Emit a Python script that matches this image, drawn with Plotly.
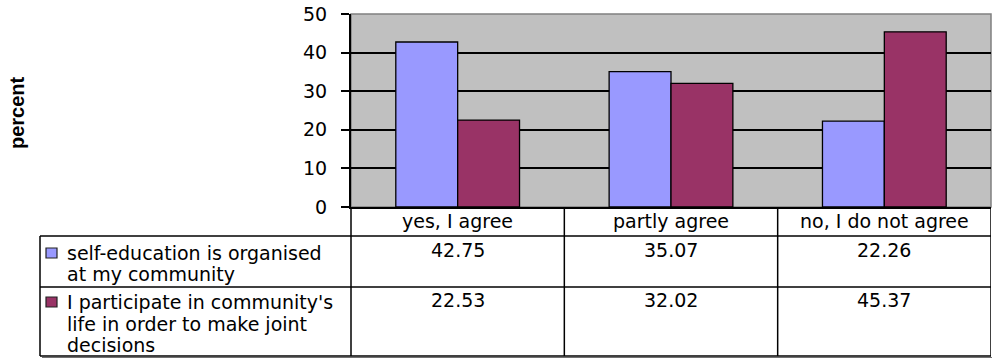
import plotly.graph_objects as go

categories = ["yes, I agree", "partly agree", "no, I do not agree"]
series_names = ["self-education is organised<br>at my community",
                "I participate in community's<br>life in order to make joint<br>decisions"]
series_values = [[42.75, 35.07, 22.26],
                 [22.53, 32.02, 45.37]]
series_colors = ["#9999FF", "#993366"]
y_ticks = [0, 10, 20, 30, 40, 50]
y_title = "percent"

W, H = 1000, 363
ML, MR, MT, MB = 40, 9, 14, 7
PW, PH = W - ML - MR, H - MT - MB


def fx(px):
    return (px - ML) / PW


def fy(py):
    return (H - MB - py) / PH


FONT = "DejaVu Sans"
fig = go.Figure()
for name, vals, col in zip(series_names, series_values, series_colors):
    fig.add_trace(go.Bar(x=categories, y=vals, name=name.replace("<br>", " "),
                         marker=dict(color=col, line=dict(color="black", width=1.3))))

y_axis_bottom = 207
header_bottom = 236
row1_bottom = 287
table_bottom = 356
table_left = 40
col0_right = 351
right_edge = 991

shapes = []
shapes.append(dict(type="rect", xref="x domain", yref="y domain", x0=0, x1=1, y0=0, y1=1,
                   line=dict(color="#808080", width=1.5), layer="below"))
lw = 1.5
for py in (header_bottom, row1_bottom, table_bottom):
    shapes.append(dict(type="line", xref="paper", yref="paper", x0=fx(table_left), x1=fx(right_edge),
                       y0=fy(py), y1=fy(py), line=dict(color="black", width=lw)))
shapes.append(dict(type="line", xref="paper", yref="paper", x0=fx(table_left), x1=fx(table_left),
                   y0=fy(header_bottom), y1=fy(table_bottom), line=dict(color="black", width=lw)))
shapes.append(dict(type="line", xref="paper", yref="paper", x0=fx(col0_right), x1=fx(col0_right),
                   y0=fy(y_axis_bottom), y1=fy(table_bottom), line=dict(color="black", width=lw)))
for i in range(len(categories)):
    xb = i + 0.5
    shapes.append(dict(type="line", xref="x", yref="paper", x0=xb, x1=xb,
                       y0=fy(y_axis_bottom), y1=fy(table_bottom), line=dict(color="black", width=lw)))
shapes.append(dict(type="line", xref="paper", yref="paper", x0=fx(table_left + 2), x1=fx(right_edge + 1),
                   y0=fy(table_bottom + 1.5), y1=fy(table_bottom + 1.5), line=dict(color="#707070", width=1)))

annotations = []
annotations.append(dict(text=y_title, xref="paper", yref="paper", x=fx(17), y=fy(113), textangle=-90,
                        xanchor="center", yanchor="middle",
                        showarrow=False, font=dict(family="Liberation Sans", size=20, color="black", weight="bold")))

for cat in categories:
    annotations.append(dict(text=cat, xref="x", yref="paper", x=cat, y=fy(221.5),
                            xanchor="center", yanchor="middle", showarrow=False,
                            font=dict(family=FONT, size=19, color="black")))

row_line_y = [[253, 274], [302, 323.5, 345]]
row_value_y = [250, 300]
square_y = [253, 302]
for s, (name, vals, col) in enumerate(zip(series_names, series_values, series_colors)):
    for li, line in enumerate(name.split("<br>")):
        annotations.append(dict(text=line, xref="paper", yref="paper", x=fx(65), y=fy(row_line_y[s][li]),
                                xanchor="left", yanchor="middle", showarrow=False,
                                font=dict(family=FONT, size=19, color="black")))
    cy = square_y[s]
    shapes.append(dict(type="rect", xref="paper", yref="paper", x0=fx(46), x1=fx(57),
                       y0=fy(cy + 5), y1=fy(cy - 5), fillcolor=col, line=dict(color="#222222", width=1.2)))
    for cat, v in zip(categories, vals):
        annotations.append(dict(text=f"{v:.2f}", xref="x", yref="paper", x=cat, y=fy(row_value_y[s]),
                                xanchor="center", yanchor="middle", showarrow=False,
                                font=dict(family=FONT, size=19, color="black")))

fig.update_layout(
    width=W, height=H,
    margin=dict(l=ML, r=MR, t=MT, b=MB, autoexpand=False),
    paper_bgcolor="white", plot_bgcolor="#C0C0C0",
    barmode="group", bargap=0.42, bargroupgap=0,
    showlegend=False,
    shapes=shapes, annotations=annotations,
    xaxis=dict(domain=[fx(col0_right), fx(right_edge)], range=[-0.5, len(categories) - 0.5],
               showline=True, linecolor="black", linewidth=2, ticks="", showgrid=False,
               showticklabels=False, automargin=False),
    yaxis=dict(domain=[fy(y_axis_bottom), 1], range=[0, 50], tickvals=y_ticks,
               showline=True, linecolor="black", linewidth=2, ticks="outside", ticklen=8,
               tickcolor="black", tickwidth=1.5, showgrid=True, gridcolor="black", gridwidth=1.5,
               zeroline=False, ticklabelstandoff=10, automargin=False, ticklabeloverflow="allow",
               tickfont=dict(family=FONT, size=19, color="black")),
)
fig.write_html("out.html", config={"displayModeBar": False},
               post_script="document.body.style.margin='0';")
